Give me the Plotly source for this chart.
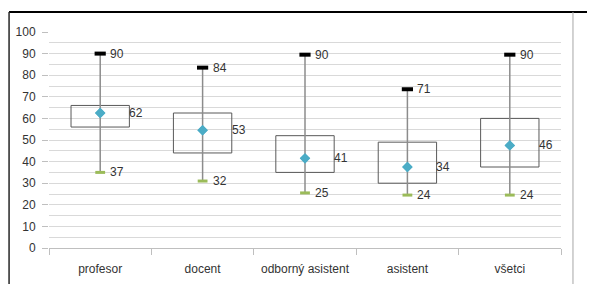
import plotly.graph_objects as go

categories = ["profesor", "docent", "odborný asistent", "asistent", "všetci"]
q1_vals = [56, 44, 35, 30, 37.5]
q3_vals = [66, 62.5, 52, 49, 60]
mean_vals = [62.5, 54.5, 41.5, 37.5, 47.5]
max_vals = [90, 83.5, 89.5, 73.5, 89.5]
min_vals = [35, 31, 25.5, 24.5, 24.5]
mean_labels = ["62", "53", "41", "34", "46"]
max_labels = ["90", "84", "90", "71", "90"]
min_labels = ["37", "32", "25", "24", "24"]

FONT = "Liberation Sans, Arial, sans-serif"
FS = 12
TXT = "#333333"

fig = go.Figure()

# boxes (transparent with outline)
fig.add_trace(go.Bar(
    x=categories, y=[b - a for a, b in zip(q1_vals, q3_vals)], base=q1_vals,
    width=0.57, marker=dict(color="rgba(0,0,0,0)", line=dict(color="#595959", width=1)),
    hoverinfo="skip", showlegend=False))

# whiskers via error bars on mean points
fig.add_trace(go.Scatter(
    x=categories, y=mean_vals, mode="markers",
    marker=dict(symbol="diamond", size=8, color="#4bacc6"),
    error_y=dict(type="data", symmetric=False,
                 array=[m - v for m, v in zip(max_vals, mean_vals)],
                 arrayminus=[v - m for m, v in zip(min_vals, mean_vals)],
                 color="#8c8c8c", thickness=1.5, width=0),
    showlegend=False))

# redraw diamonds above whiskers
fig.add_trace(go.Scatter(
    x=categories, y=mean_vals, mode="markers",
    marker=dict(symbol="diamond", size=8, color="#4bacc6"), showlegend=False))

fig.add_trace(go.Scatter(
    x=categories, y=max_vals, mode="markers",
    marker=dict(symbol="line-ew", size=8, line=dict(color="#000000", width=4)),
    showlegend=False))
fig.add_trace(go.Scatter(
    x=categories, y=min_vals, mode="markers",
    marker=dict(symbol="line-ew", size=7, line=dict(color="#9bbb59", width=3)),
    showlegend=False))

annotations = []
for c, v, t in zip(categories, max_vals, max_labels):
    annotations.append(dict(x=c, y=v, text=t, showarrow=False, xanchor="left",
                            xshift=8, font=dict(family=FONT, size=FS, color=TXT)))
for c, v, t in zip(categories, min_vals, min_labels):
    annotations.append(dict(x=c, y=v, text=t, showarrow=False, xanchor="left",
                            xshift=8, font=dict(family=FONT, size=FS, color=TXT)))
for c, v, t in zip(categories, mean_vals, mean_labels):
    annotations.append(dict(x=c, y=v, text=t, showarrow=False, xanchor="left",
                            xshift=27, font=dict(family=FONT, size=FS, color=TXT)))

shapes = [
    dict(type="line", xref="paper", yref="paper", x0=-0.078, x1=1.07, y0=1.0926, y1=1.0926,
         line=dict(color="#000000", width=2)),
    dict(type="line", xref="paper", yref="paper", x0=-0.078, x1=-0.078, y0=1.0926, y1=-0.2,
         line=dict(color="#262626", width=1.5)),
    dict(type="line", xref="paper", yref="paper", x0=1.0234, x1=1.0234, y0=1.0926, y1=-0.2,
         line=dict(color="#a6a6a6", width=1)),
]

fig.update_layout(
    width=587, height=276,
    margin=dict(l=41, r=34, t=24, b=36),
    paper_bgcolor="white", plot_bgcolor="white",
    font=dict(family=FONT, size=FS, color=TXT),
    annotations=annotations, shapes=shapes,
)
fig.update_xaxes(
    type="category", tickson="boundaries", ticks="outside", ticklen=6,
    tickcolor="#bfbfbf", showline=True, linecolor="#bfbfbf", linewidth=1,
    showgrid=False, tickfont=dict(family=FONT, size=FS, color=TXT),
    tickangle=0, automargin=False, ticklabelstandoff=10)
fig.update_yaxes(
    range=[0, 100], tickvals=list(range(0, 101, 10)), ticks="outside", ticklen=6,
    tickcolor="#bfbfbf", showline=False, showgrid=True, gridcolor="#d9d9d9",
    gridwidth=1, zeroline=False, automargin=False,
    minor=dict(dtick=5, showgrid=True, gridcolor="#d9d9d9", ticks=""),
    tickfont=dict(family=FONT, size=FS, color=TXT), ticklabelstandoff=4)

fig.write_html("out.html")
